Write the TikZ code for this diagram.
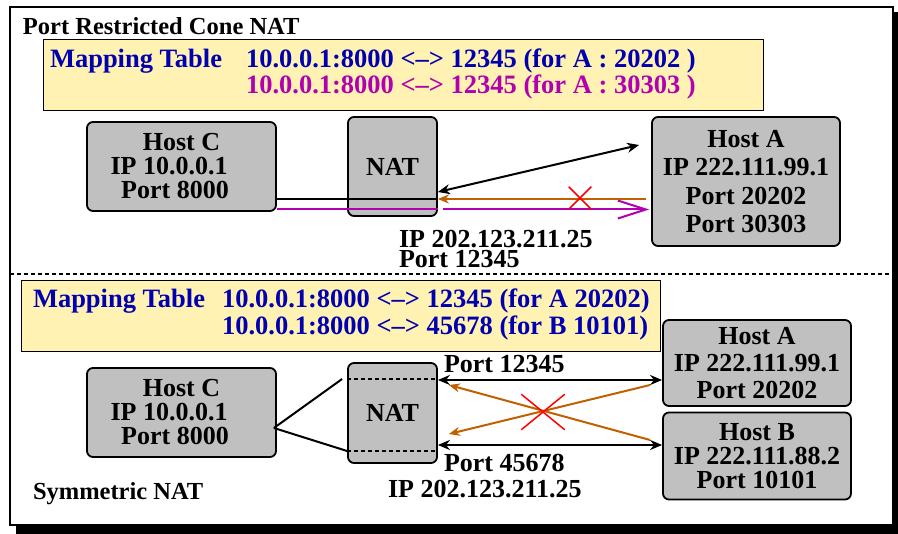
\documentclass[tikz,border=0pt]{standalone}
\usepackage{fontspec}
\setmainfont{Liberation Serif}
\usetikzlibrary{arrows.meta,shapes.misc}
\definecolor{ink}{HTML}{000000}
\definecolor{natgray}{HTML}{C0C0C0}
\definecolor{tablefill}{HTML}{FFF2B3}
\definecolor{mapblue}{HTML}{0000B0}
\definecolor{mapmagenta}{HTML}{B000B0}
\definecolor{orangeline}{HTML}{C06000}
\definecolor{blockred}{HTML}{FF0000}
\tikzset{
  every picture/.style={x=1pt, y=-1pt, line width=2pt, draw=ink, text=ink},
  host/.style={draw=ink, fill=natgray, rounded corners=6pt, line width=1.8pt, align=center, inner sep=0pt, font=\bfseries\fontsize{26}{#1}\selectfont},
  host/.default=26,
  frame/.style={draw=ink, fill=white, line width=1.5pt},
  split/.style={draw=ink, dash pattern=on 4pt off 3pt, line width=1.6pt},
  tablebox/.style={draw=ink, fill=tablefill, line width=1pt, inner sep=0pt},
  maptext/.style={font=\bfseries\fontsize{26.5}{27}\selectfont, inner sep=0pt, anchor=base west},
  heading/.style={font=\bfseries\fontsize{24.5}{25}\selectfont, inner sep=0pt, anchor=base west},
  tag/.style={font=\bfseries\fontsize{26}{20}\selectfont, inner sep=0pt, anchor=base west, align=left},
  wire/.style={draw=ink, line width=2pt},
  both/.style={{Stealth[length=12pt,width=10pt]}-{Stealth[length=12pt,width=10pt]}, draw=ink, line width=2pt},
  answer/.style={-{Stealth[length=11pt,width=9pt]}, draw=orangeline, line width=2pt},
  probe/.style={-{Straight Barb[length=28pt,width=18pt]}, draw=mapmagenta, line width=2pt},
  blocked/.style={cross out, draw=blockred, line width=1.5pt, inner sep=0pt},
}
\begin{document}
\begin{tikzpicture}
\useasboundingbox (0,0) rectangle (898,534);
\fill[ink] (16,12) rectangle (898,534);
\draw[frame] (10,7) rectangle (893,525);
\draw[split] (10,274) -- (893,274);

\node[heading] (cone) at (22,35) {Port Restricted Cone NAT};
\node[tablebox, minimum width=720, minimum height=71] (tab1) at (403,75.5) {};
\node[maptext, text=mapblue] (tab1key) at (49,68) {Mapping Table};
\node[maptext, text=mapblue] (tab1a) at (245,68) {10.0.0.1:8000 <–> 12345 (for A : 20202 )};
\node[maptext, text=mapmagenta] (tab1b) at (245,94) {10.0.0.1:8000 <–> 12345 (for A : 30303 )};

\node[host=24, minimum width=189, minimum height=89] (hostC1) at (181.5,166.5) {Host C\\\hbox{IP 10.0.0.1\kern25pt}\\\hbox{Port 8000\kern13pt}};
\node[host, minimum width=89, minimum height=99] (natT) at (392.5,166.5) {NAT};
\node[host=28.5, minimum width=188, minimum height=129] (hostA1) at (746,181.5) {Host A\\IP 222.111.99.1\\Port 20202\\Port 30303};

\draw[wire] ([yshift=-32.5pt]hostC1.east) -- ([yshift=-32.5pt]natT.east);
\draw[wire, draw=mapmagenta] ([yshift=-43pt]hostC1.east) -- ([yshift=-43pt]natT.east);
\draw[probe] ([xshift=5pt,yshift=-43pt]natT.east) -- ([xshift=-2pt,yshift=-43pt]natT.east -| hostA1.west);
\draw[answer] ([xshift=-5pt,yshift=-17.5pt]hostA1.west) -- ([yshift=-32.5pt]natT.east);
\draw[both] ([yshift=-25.5pt]natT.east) -- ([xshift=-12pt,yshift=36.5pt]hostA1.west);
\node[blocked, minimum width=21, minimum height=21] (x1) at (580,198) {};
\node[tag, anchor=north west] (pub1) at (398,229.5) {IP 202.123.211.25\\Port 12345};

\node[tablebox, minimum width=639, minimum height=71] (tab2) at (340.5,316.5) {};
\node[maptext, text=mapblue] (tab2key) at (32,308) {Mapping Table};
\node[maptext, text=mapblue] (tab2a) at (221,308) {10.0.0.1:8000 <–> 12345 (for A 20202)};
\node[maptext, text=mapblue] (tab2b) at (221,335) {10.0.0.1:8000 <–> 45678 (for B 10101)};

\node[host=24, minimum width=189, minimum height=89] (hostC2) at (181.5,412.5) {Host C\\\hbox{IP 10.0.0.1\kern25pt}\\\hbox{Port 8000\kern13pt}};
\node[host, minimum width=89, minimum height=100] (natB) at (392.5,413) {NAT};
\node[host=27, minimum width=188, minimum height=86] (hostA2) at (757,363) {Host A\\IP 222.111.99.1\\Port 20202};
\node[host=24, minimum width=188, minimum height=87] (hostB) at (757,456) {Host B\\IP 222.111.88.2\\Port 10101};

\draw[split] ([yshift=34pt]natB.west) -- ([yshift=34pt]natB.east);
\draw[split] ([yshift=-38pt]natB.west) -- ([yshift=-38pt]natB.east);
\coordinate (fork) at ([xshift=-3pt,yshift=-15.5pt]hostC2.east);
\draw[wire] (fork) -- ([xshift=-5pt,yshift=34pt]natB.west);
\draw[wire] (fork) -- ([yshift=-38pt]natB.west);
\draw[both] ([yshift=33pt]natB.east) -- ([yshift=33pt]natB.east -| hostA2.west);
\draw[both] ([yshift=-32pt]natB.east) -- ([yshift=-32pt]natB.east -| hostB.west);
\draw[answer] ([xshift=-12pt,yshift=-22pt]hostA2.west) -- ([xshift=11pt,yshift=-21pt]natB.east);
\draw[answer] ([xshift=-12pt,yshift=16pt]hostB.west) -- ([xshift=11pt,yshift=28pt]natB.east);
\node[blocked, minimum width=42, minimum height=34] (x2) at (543,412) {};
\node[tag] (pub2port1) at (443,373) {Port 12345};
\node[tag] (pub2port2) at (443,472) {Port 45678};
\node[tag] (pub2ip) at (387,498) {IP 202.123.211.25};
\node[heading] (sym) at (32,500) {Symmetric NAT};
\end{tikzpicture}
\end{document}
